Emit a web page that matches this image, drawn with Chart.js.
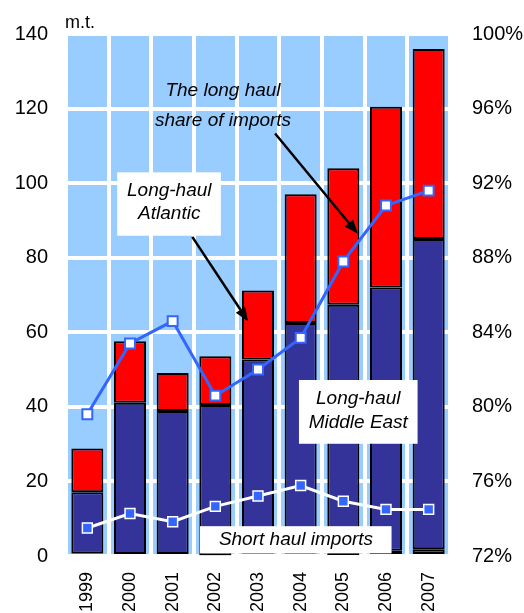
<!DOCTYPE html>
<html>
<head>
<meta charset="utf-8">
<script src="https://cdn.jsdelivr.net/npm/chart.js@4/dist/chart.umd.min.js"></script>
<style>
  html, body { margin: 0; padding: 0; background: #ffffff; }
  #wrap { width: 524px; height: 613px; position: relative; }
</style>
</head>
<body>
<div id="wrap"><canvas id="c" width="524" height="613"></canvas></div>
<script>
// Imports by route, million tonnes, with the long-haul share (%)
const years = ['1999', '2000', '2001', '2002', '2003', '2004', '2005', '2006', '2007'];
const otherLongHaul = [0.7, 0, 0, 0.2, 0.6, 0.6, 0.3, 1.4, 1.8];
const middleEast = [16.4, 41.1, 38.9, 40.3, 52.1, 61.9, 67.1, 70.6, 83.2];
const atlantic = [11.7, 16.5, 10.2, 13.1, 18.5, 34.5, 36.6, 48.5, 51.0];
const shortHaul = [7.5, 11.4, 9.2, 13.3, 16.1, 18.9, 14.7, 12.5, 12.5];
const longHaulShare = [79.6, 83.4, 84.6, 80.6, 82.0, 83.7, 87.8, 90.8, 91.6];
const leftTicks = [0, 20, 40, 60, 80, 100, 120, 140];
const rightTicks = [72, 76, 80, 84, 88, 92, 96, 100];

const NAVY = '#333399';
const RED = '#FF0000';
const SKY = '#99CCFF';
const BLUE = '#3366FF';
const FONT = '"Liberation Sans", Arial, sans-serif';

// Callout boxes, captions and arrows, placed in (category index, m.t.) units
const callouts = [
  { box: [0.70, 102.9, 3.13, 85.9], lines: ['Long-haul', 'Atlantic'], at: [1.92, 98.1], gap: 6.4 },
  { box: null, lines: ['The long haul', 'share of imports'], at: [3.18, 124.8], gap: 8.0 },
  { box: [4.96, 47.2, 7.74, 30.1], lines: ['Long-haul', 'Middle East'], at: [6.35, 42.1], gap: 6.4 },
  { box: [2.64, 8.0, 7.13, 0.7], lines: ['Short haul imports'], at: [4.89, 4.3], gap: 0 }
];
const arrows = [
  { from: [2.46, 85.6], to: [3.77, 62.9] },
  { from: [4.40, 113.3], to: [6.34, 86.4] }
];

const plotBackground = {
  id: 'plotBackground',
  beforeDraw(chart) {
    const { ctx, chartArea: a } = chart;
    ctx.save();
    ctx.fillStyle = SKY;
    ctx.fillRect(a.left, a.top, a.right - a.left, a.bottom - a.top);
    ctx.restore();
  }
};

const notes = {
  id: 'notes',
  afterDatasetsDraw(chart) {
    const { ctx, chartArea: a } = chart;
    const xs = chart.scales.x, ys = chart.scales.y;
    const px = v => xs.getPixelForValue(v);
    const py = v => ys.getPixelForValue(v);
    ctx.save();
    // unit label of the left axis
    ctx.fillStyle = '#000';
    ctx.font = '18px ' + FONT;
    ctx.textAlign = 'left';
    ctx.textBaseline = 'alphabetic';
    ctx.fillText('m.t.', a.left - 1, a.top - 6);

    callouts.forEach(c => {
      if (c.box) {
        const x0 = px(c.box[0]), y0 = py(c.box[1]);
        const x1 = px(c.box[2]), y1 = py(c.box[3]);
        ctx.fillStyle = '#ffffff';
        ctx.fillRect(x0, y0, x1 - x0, y1 - y0);
      }
      ctx.fillStyle = '#000';
      ctx.font = 'italic 19px ' + FONT;
      ctx.textAlign = 'center';
      ctx.textBaseline = 'middle';
      c.lines.forEach((t, i) => {
        ctx.fillText(t, px(c.at[0]), py(c.at[1] - i * c.gap));
      });
    });

    arrows.forEach(ar => {
      const x0 = px(ar.from[0]), y0 = py(ar.from[1]);
      const x1 = px(ar.to[0]), y1 = py(ar.to[1]);
      const ang = Math.atan2(y1 - y0, x1 - x0);
      const head = 14, half = 5.5;
      const bx = x1 - head * Math.cos(ang), by = y1 - head * Math.sin(ang);
      ctx.strokeStyle = '#000';
      ctx.lineWidth = 2.5;
      ctx.beginPath();
      ctx.moveTo(x0, y0);
      ctx.lineTo(bx, by);
      ctx.stroke();
      ctx.fillStyle = '#000';
      ctx.beginPath();
      ctx.moveTo(x1, y1);
      ctx.lineTo(bx + half * Math.sin(ang), by - half * Math.cos(ang));
      ctx.lineTo(bx - half * Math.sin(ang), by + half * Math.cos(ang));
      ctx.closePath();
      ctx.fill();
    });
    ctx.restore();
  }
};

const barStyle = {
  type: 'bar',
  yAxisID: 'y',
  stack: 'imports',
  borderColor: '#000000',
  borderWidth: 2,
  borderSkipped: false,
  barPercentage: 0.75,
  categoryPercentage: 1.0,
  order: 2
};

new Chart(document.getElementById('c'), {
  data: {
    labels: years,
    datasets: [
      Object.assign({ label: 'Other long haul', data: otherLongHaul, backgroundColor: NAVY }, barStyle),
      Object.assign({ label: 'Long-haul Middle East', data: middleEast, backgroundColor: NAVY }, barStyle),
      Object.assign({ label: 'Long-haul Atlantic', data: atlantic, backgroundColor: RED }, barStyle),
      {
        type: 'line',
        label: 'Short haul imports',
        data: shortHaul,
        yAxisID: 'y',
        stack: 'short',
        borderColor: '#ffffff',
        borderWidth: 3,
        pointStyle: 'rect',
        pointRadius: 7,
        pointBackgroundColor: BLUE,
        pointBorderColor: '#ffffff',
        pointBorderWidth: 1.5,
        tension: 0,
        order: 1
      },
      {
        type: 'line',
        label: 'The long haul share of imports',
        data: longHaulShare,
        yAxisID: 'y2',
        borderColor: BLUE,
        borderWidth: 3,
        pointStyle: 'rect',
        pointRadius: 7,
        pointBackgroundColor: '#ffffff',
        pointBorderColor: BLUE,
        pointBorderWidth: 2,
        tension: 0,
        order: 0
      }
    ]
  },
  options: {
    responsive: false,
    animation: false,
    events: [],
    layout: { padding: { top: 31, left: 0, right: 0, bottom: 0 } },
    plugins: { legend: { display: false }, tooltip: { enabled: false }, title: { display: false } },
    scales: {
      x: {
        type: 'category',
        stacked: true,
        offset: true,
        grid: { color: '#ffffff', lineWidth: 4, offset: true, drawTicks: false },
        border: { display: false },
        ticks: {
          color: '#000', font: { family: FONT, size: 18 },
          minRotation: 90, maxRotation: 90, autoSkip: false, padding: 16
        },
        afterFit(s) { s.height = 57; }
      },
      y: {
        position: 'left',
        stacked: true,
        min: leftTicks[0],
        max: leftTicks[leftTicks.length - 1],
        afterBuildTicks(s) { s.ticks = leftTicks.map(v => ({ value: v })); },
        grid: { color: '#ffffff', lineWidth: 4, drawTicks: false },
        border: { display: false },
        ticks: { color: '#000', font: { family: FONT, size: 20 }, padding: 18 },
        afterFit(s) { s.width = 66; }
      },
      y2: {
        position: 'right',
        min: rightTicks[0],
        max: rightTicks[rightTicks.length - 1],
        afterBuildTicks(s) { s.ticks = rightTicks.map(v => ({ value: v })); },
        grid: { display: false, drawTicks: false },
        border: { display: false },
        ticks: { color: '#000', font: { family: FONT, size: 20 }, padding: 22, callback: v => v + '%' },
        afterFit(s) { s.width = 74; }
      }
    }
  },
  plugins: [plotBackground, notes]
});
</script>
</body>
</html>
